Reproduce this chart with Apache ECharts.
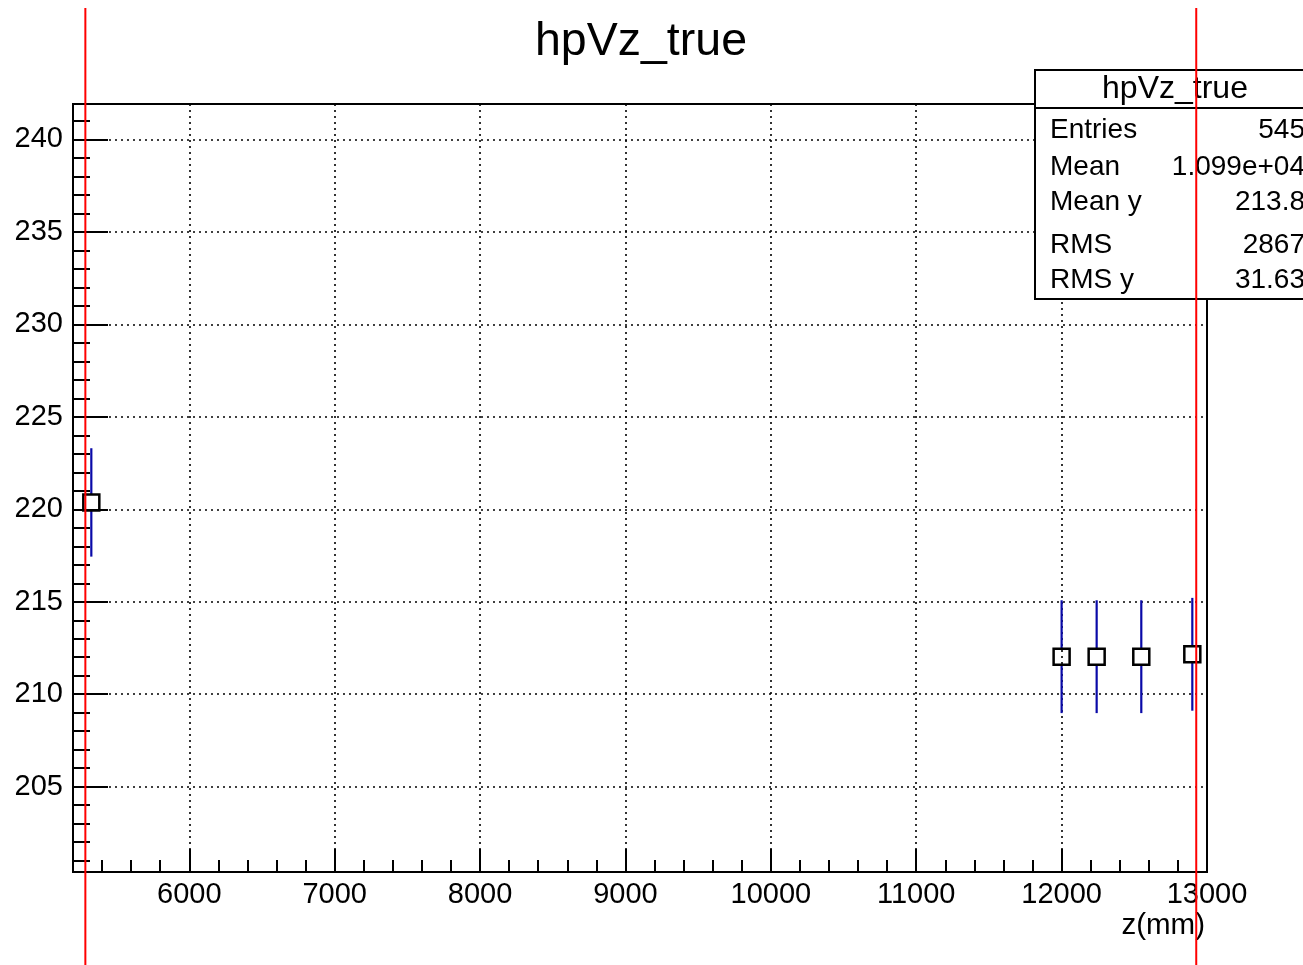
<!DOCTYPE html>
<html>
<head>
<meta charset="utf-8">
<script src="https://cdn.jsdelivr.net/npm/echarts@6/dist/echarts.min.js"></script>
<style>
html,body{margin:0;padding:0;background:#fff;}
#chart{width:1303px;height:965px;}
</style>
</head>
<body>
<div id="chart"></div>
<script>
// ---- data ----
const titleText = 'hpVz_true';
const xAxisName = 'z(mm)';
const zValues = [5326, 12000, 12241, 12548, 12899];
const yValues = [220.37, 212.03, 212.03, 212.03, 212.16];
const yErrors = [2.93, 3.05, 3.05, 3.05, 3.05];
const redLineZ = [5285, 12926];
const xRange = [5200, 13000];
const yRange = [200.39, 241.91];
const statLabels = ['Entries', 'Mean', 'Mean y', 'RMS', 'RMS y'];
const statValues = ['545', '1.099e+04', '213.8', '2867', '31.63'];

const FONT = 'Liberation Sans, Arial, Helvetica, sans-serif';

const pointData = zValues.map((z, i) => [z, yValues[i], yErrors[i]]);
const redData = redLineZ.map(z => [z, yRange[0]]);

const statRowY = [130, 167, 202, 245, 280];
const statGraphics = [
  { type: 'rect', z: 50, shape: { x: 1035, y: 70, width: 320, height: 229 },
    style: { fill: '#fff', stroke: '#000', lineWidth: 2 } },
  { type: 'line', z: 51, shape: { x1: 1035, y1: 108, x2: 1320, y2: 108 },
    style: { stroke: '#000', lineWidth: 2 } },
  { type: 'text', z: 52, x: 1175, y: 89,
    style: { text: titleText, font: '32px ' + FONT, fill: '#000', align: 'center', verticalAlign: 'middle' } }
];
statLabels.forEach((lab, i) => {
  statGraphics.push({ type: 'text', z: 52, x: 1050, y: statRowY[i],
    style: { text: lab, font: '28px ' + FONT, fill: '#000', align: 'left', verticalAlign: 'middle' } });
  statGraphics.push({ type: 'text', z: 52, x: 1305, y: statRowY[i],
    style: { text: statValues[i], font: '28px ' + FONT, fill: '#000', align: 'right', verticalAlign: 'middle' } });
});

const chart = echarts.init(document.getElementById('chart'), null, { renderer: 'canvas' });
const option = {
  animation: false,
  backgroundColor: '#fff',
  title: {
    text: titleText, left: 636, top: 14, textAlign: 'center',
    textStyle: { fontSize: 46.5, fontWeight: 'normal', color: '#000', fontFamily: FONT }
  },
  grid: {
    left: 73, top: 104, width: 1134, height: 768,
    show: true, borderColor: '#000', borderWidth: 2, backgroundColor: 'transparent'
  },
  xAxis: {
    type: 'value', min: xRange[0], max: xRange[1], splitNumber: 8,
    name: xAxisName, nameLocation: 'end', nameGap: -2,
    nameTextStyle: { fontSize: 29.5, color: '#000', fontFamily: FONT, align: 'right', verticalAlign: 'top', padding: [39, 0, 0, 0] },
    axisLine: { show: true, onZero: false, lineStyle: { color: '#000', width: 2 } },
    axisTick: { show: true, inside: true, length: 23, lineStyle: { color: '#000', width: 2 } },
    minorTick: { show: true, splitNumber: 5, length: 12, lineStyle: { color: '#000', width: 2 } },
    axisLabel: {
      fontSize: 29, color: '#000', fontFamily: FONT, margin: 8, showMinLabel: false, showMaxLabel: true,
      formatter: v => (Math.abs(v / 1000 - Math.round(v / 1000)) < 1e-6 ? String(Math.round(v)) : '')
    },
    splitLine: { show: true, lineStyle: { color: '#000', width: 1.6, type: [2, 4] } },
    minorSplitLine: { show: false }
  },
  yAxis: {
    type: 'value', min: yRange[0], max: yRange[1], splitNumber: 8,
    axisLine: { show: true, onZero: false, lineStyle: { color: '#000', width: 2 } },
    axisTick: { show: true, inside: true, length: 35, lineStyle: { color: '#000', width: 2 } },
    minorTick: { show: true, splitNumber: 5, length: 17, lineStyle: { color: '#000', width: 2 } },
    axisLabel: {
      fontSize: 29, color: '#000', fontFamily: FONT, margin: 10, showMinLabel: false, showMaxLabel: false,
      formatter: v => (Math.abs(v / 5 - Math.round(v / 5)) < 1e-6 ? String(Math.round(v)) : '')
    },
    splitLine: { show: true, lineStyle: { color: '#000', width: 1.6, type: [2, 4] } }
  },
  graphic: { elements: statGraphics },
  series: [
    {
      type: 'custom', name: 'errors', z: 5,
      data: pointData,
      renderItem: function (params, api) {
        const x = api.value(0), y = api.value(1), e = api.value(2);
        const c = api.coord([x, y]);
        const t = api.coord([x, y + e]);
        const b = api.coord([x, y - e]);
        const gap = 8;
        const st = { stroke: '#0a0aa8', lineWidth: 2.2 };
        return {
          type: 'group',
          children: [
            { type: 'line', shape: { x1: c[0], y1: t[1], x2: c[0], y2: c[1] - gap }, style: st },
            { type: 'line', shape: { x1: c[0], y1: c[1] + gap, x2: c[0], y2: b[1] }, style: st }
          ]
        };
      }
    },
    {
      type: 'scatter', name: 'points', z: 6,
      data: pointData.map(d => [d[0], d[1]]),
      symbol: 'rect', symbolSize: 16,
      itemStyle: { color: 'rgba(0,0,0,0)', borderColor: '#000', borderWidth: 2.5, opacity: 1 }
    },
    {
      type: 'custom', name: 'redLines', z: 100, clip: false,
      data: redData,
      renderItem: function (params, api) {
        const c = api.coord([api.value(0), api.value(1)]);
        return {
          type: 'line',
          shape: { x1: c[0], y1: 8, x2: c[0], y2: 965 },
          style: { stroke: '#ff0000', lineWidth: 2 }
        };
      }
    }
  ]
};
chart.setOption(option);
</script>
</body>
</html>
